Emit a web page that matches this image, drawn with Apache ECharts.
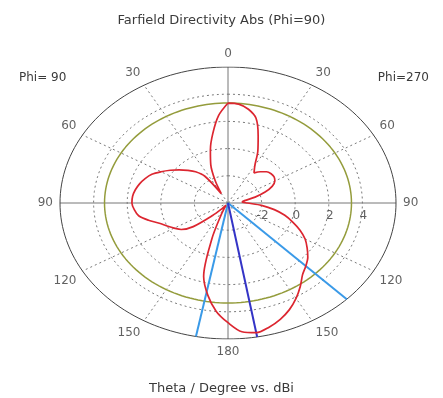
<!DOCTYPE html>
<html>
<head>
<meta charset="utf-8">
<script src="https://cdn.jsdelivr.net/npm/echarts@6/dist/echarts.min.js"></script>
<style>
html,body{margin:0;padding:0;background:#fff;}
#c{width:443px;height:398px;}
</style>
</head>
<body>
<div id="c"></div>
<script>
// ---- Data (angle clockwise from top, deg; directivity, dBi) ----
const thetaDeg = [0,5,10,15,20,25,30,35,40,45,50,55,60,65,70,75,80,85,90,95,100,105,110,115,120,125,130,135,140,145,150,155,160,165,170,175,180,185,190,195,200,205,210,215,220,225,230,235,240,245,250,255,260,265,270,275,280,285,290,295,300,305,310,315,320,325,330,335,340,345,350,355];
const dbi = [3.35,3.3,3.0,2.45,1.25,0.2,-0.8,-1.3,-1.0,-0.75,-0.65,-0.65,-0.78,-1.1,-1.65,-2.33,-3.0,-3.15,-2.85,-2.0,-1.2,-0.5,0.1,0.73,1.3,1.75,2.2,2.55,2.9,3.5,4.1,4.65,5.1,5.45,5.68,5.5,4.8,4.0,2.9,1.6,-1.2,-3.0,-3.6,-3.8,-3.5,-2.7,-1.3,-0.6,-0.3,0.0,0.35,0.9,1.4,1.6,1.72,1.7,1.6,1.45,1.25,1.0,0.6,0.2,-0.2,-0.6,-1.0,-1.6,-3.2,-2.2,-1.0,0.05,1.2,2.45];
const ringValues = [-2, 0, 2, 4];          // dotted rings (dBi)
const ringLabels = ['-2', '0', '2', '4'];
const rMin = -4, rMax = 6;                 // radial range (dBi)
const spokeAngles = [30, 60, 120, 150, 210, 240, 300, 330];
const angleTickAngles = [0, 30, 60, 90, 120, 150, 180, -150, -120, -90, -60, -30];
const angleTickLabels = ['0', '30', '60', '90', '120', '150', '180', '150', '120', '90', '60', '30'];
const sideLobeLevel = 3.35;                // green circle
const mainLobeDir = 170;                   // dark blue line
const beamEdges = [135, 191];              // 3 dB angular width (light blue)
const titleText = 'Farfield Directivity Abs (Phi=90)';
const xLabelText = 'Theta / Degree vs. dBi';
const leftPhi = 'Phi= 90', rightPhi = 'Phi=270';

// ---- helpers ----
const R = rMax - rMin;
function pt(angDeg, val){ const r = val - rMin; const a = angDeg*Math.PI/180; return [r*Math.sin(a), r*Math.cos(a)]; }
function ring(val){ const out=[]; for(let a=0;a<=360;a+=2) out.push(pt(a,val)); return out; }

const FONT = 'DejaVu Sans';
const TXT = '#3a3a3a';
const series = [];
// dotted rings
ringValues.forEach(v => series.push({type:'line', data: ring(v), symbol:'none', silent:true,
  lineStyle:{color:'#7a7a7a', width:1, type:[2,3]}, z:1}));
// dotted spokes
spokeAngles.forEach(a => series.push({type:'line', data:[pt(a,rMin), pt(a,rMax)], symbol:'none', silent:true,
  lineStyle:{color:'#7a7a7a', width:1, type:[2,3]}, z:1}));
// solid axes
series.push({type:'line', data:[pt(-90,rMax), pt(90,rMax)], symbol:'none', silent:true, lineStyle:{color:'#777', width:1}, z:2});
series.push({type:'line', data:[pt(0,rMax), pt(180,rMax)], symbol:'none', silent:true, lineStyle:{color:'#777', width:1}, z:2});
// outer ellipse
series.push({type:'line', data: ring(rMax), symbol:'none', silent:true, lineStyle:{color:'#444', width:1}, z:2});
// side lobe level circle
series.push({type:'line', data: ring(sideLobeLevel), symbol:'none', silent:true, lineStyle:{color:'#949c3c', width:1.5}, z:3});
// beam width lines
beamEdges.forEach(a => series.push({type:'line', data:[pt(a,rMin), pt(a,rMax)], symbol:'none', silent:true,
  lineStyle:{color:'#3a9ae8', width:2}, z:4}));
series.push({type:'line', data:[pt(mainLobeDir,rMin), pt(mainLobeDir,rMax)], symbol:'none', silent:true,
  lineStyle:{color:'#3434c6', width:2}, z:5});
// pattern
const pat = thetaDeg.map((a,i)=>pt(a,dbi[i])); pat.push(pat[0]);
series.push({type:'line', data: pat, symbol:'none', smooth:0.3, silent:true,
  lineStyle:{color:'#dc2630', width:1.7}, z:6});
// angle labels
const off = 7;
series.push({type:'scatter', symbolSize:0, silent:true, z:7,
  data: angleTickAngles.map((a,i)=>{ const s=Math.sin(a*Math.PI/180), c=Math.cos(a*Math.PI/180);
    return {value: pt(a,rMax), label:{show:true, formatter: angleTickLabels[i],
      align: s>0.2?'left':(s<-0.2?'right':'center'),
      verticalAlign: c>0.2?'bottom':(c<-0.2?'top':'middle'),
      offset:[s*off, -c*off]}}; }),
  label:{fontFamily:FONT, fontSize:12, color:TXT}});
// ring labels
series.push({type:'scatter', symbolSize:0, silent:true, z:7,
  data: ringValues.map((v,i)=>({value: pt(90,v), label:{show:true, formatter: ringLabels[i], align:'center', verticalAlign:'top', offset:[1,7]}})),
  label:{fontFamily:FONT, fontSize:12, color:TXT}});

const chart = echarts.init(document.getElementById('c'), null, {renderer:'canvas'});
chart.setOption({
  animation:false,
  backgroundColor:'#fff',
  grid:{left:60, top:67, width:336, height:272},
  xAxis:{type:'value', min:-R, max:R, show:false},
  yAxis:{type:'value', min:-R, max:R, show:false},
  title:[
    {text:titleText, left:'center', top:9, textStyle:{fontFamily:FONT, fontSize:13, fontWeight:'normal', color:TXT}},
    {text:xLabelText, left:'center', top:377, textStyle:{fontFamily:FONT, fontSize:13, fontWeight:'normal', color:TXT}},
    {text:leftPhi, left:14, top:67, textStyle:{fontFamily:FONT, fontSize:12, fontWeight:'normal', color:TXT}},
    {text:rightPhi, right:9, top:67, textStyle:{fontFamily:FONT, fontSize:12, fontWeight:'normal', color:TXT}}
  ],
  series: series
});
</script>
</body>
</html>
